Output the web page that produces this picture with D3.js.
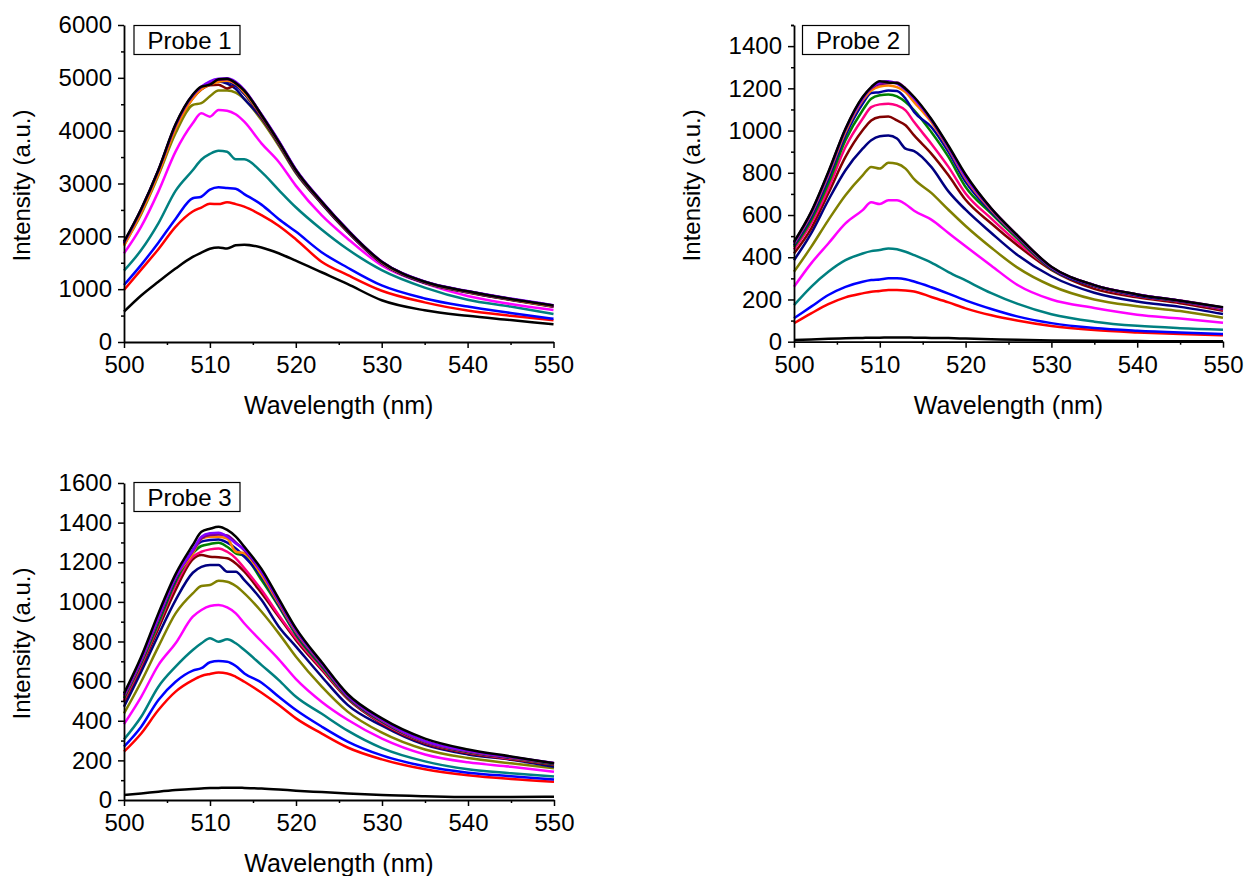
<!DOCTYPE html>
<html>
<head>
<meta charset="utf-8">
<script src="https://cdn.jsdelivr.net/npm/d3@7"></script>
<style>
  body { margin: 0; background: #fff; }
  svg text { font-family: "Liberation Sans", Arial, sans-serif; }
</style>
</head>
<body>
<div id="chart"></div>
<script>
var wavelengths = [500, 502, 504, 506, 508, 509, 510, 511, 512, 513, 514, 516, 518, 520, 523, 526, 530, 535, 540, 545, 550];

// line colours, drawn bottom -> top
var lineColors = ["#000000", "#FF0000", "#0000FF", "#008080", "#FF00FF", "#808000", "#000080", "#800000",
                  "#FF0080", "#008000", "#0000A0", "#FF8000", "#800080", "#8000FF", "#000000"];

var xTicks = [500, 510, 520, 530, 540, 550];

// Probe 1
var probe1 = [
  [574, 880, 1140, 1390, 1610, 1690, 1765, 1790, 1770, 1830, 1842, 1790, 1680, 1540, 1320, 1100, 790, 600, 495, 415, 335],
  [984, 1370, 1757, 2180, 2470, 2545, 2618, 2610, 2644, 2610, 2562, 2400, 2200, 1945, 1520, 1270, 970, 750, 595, 495, 410],
  [1079, 1460, 1880, 2330, 2720, 2750, 2885, 2930, 2915, 2900, 2800, 2600, 2330, 2090, 1700, 1410, 1070, 825, 670, 550, 438],
  [1350, 1740, 2246, 2860, 3250, 3450, 3560, 3620, 3600, 3458, 3458, 3220, 2880, 2550, 2130, 1760, 1360, 1030, 800, 670, 530],
  [1678, 2183, 2846, 3603, 4139, 4328, 4265, 4392, 4379, 4310, 4170, 3760, 3413, 2960, 2400, 1960, 1450, 1110, 870, 720, 606],
  [1840, 2420, 3150, 3950, 4486, 4520, 4650, 4760, 4760, 4720, 4600, 4200, 3720, 3200, 2620, 2090, 1490, 1120, 935, 795, 665],
  [1860, 2480, 3215, 4070, 4630, 4790, 4890, 4930, 4890, 4790, 4600, 4240, 3750, 3215, 2620, 2090, 1492, 1120, 942, 800, 672],
  [1845, 2470, 3200, 4050, 4610, 4780, 4860, 4870, 4800, 4860, 4700, 4260, 3770, 3230, 2632, 2100, 1500, 1125, 948, 804, 678],
  [1850, 2485, 3225, 4080, 4640, 4805, 4890, 4940, 4950, 4860, 4730, 4280, 3782, 3245, 2645, 2112, 1508, 1132, 952, 808, 682],
  [1865, 2495, 3235, 4090, 4655, 4815, 4900, 4955, 4965, 4880, 4745, 4290, 3795, 3255, 2655, 2122, 1514, 1136, 956, 810, 684],
  [1870, 2500, 3240, 4095, 4660, 4820, 4905, 4945, 4930, 4850, 4700, 4275, 3780, 3240, 2645, 2115, 1510, 1134, 955, 810, 683],
  [1820, 2450, 3185, 4035, 4610, 4785, 4875, 4925, 4945, 4885, 4725, 4285, 3785, 3250, 2650, 2118, 1512, 1135, 955, 810, 682],
  [1875, 2505, 3245, 4100, 4665, 4825, 4920, 4965, 4975, 4905, 4765, 4300, 3800, 3262, 2660, 2126, 1518, 1140, 960, 816, 690],
  [1885, 2512, 3250, 4110, 4672, 4830, 4935, 4985, 4992, 4925, 4775, 4310, 3812, 3270, 2668, 2132, 1525, 1146, 966, 822, 696],
  [1899, 2517, 3256, 4120, 4680, 4833, 4870, 4972, 4985, 4900, 4760, 4297, 3792, 3256, 2656, 2120, 1520, 1140, 960, 815, 690]
];

// Probe 2
var probe2 = [
  [8, 11, 14, 16, 18, 19, 19, 20, 20, 20, 19, 18, 17, 15, 12, 9, 6, 4, 3, 2, 2],
  [87, 134, 178, 210, 229, 237, 240, 245, 245, 243, 238, 212, 186, 158, 125, 100, 74, 55, 44, 36, 30],
  [111, 166, 221, 260, 284, 292, 295, 300, 300, 296, 285, 258, 228, 196, 155, 120, 88, 65, 52, 43, 36],
  [173, 260, 331, 386, 418, 429, 434, 442, 438, 426, 410, 375, 330, 290, 230, 180, 130, 95, 75, 64, 57],
  [260, 371, 465, 560, 623, 660, 652, 670, 670, 651, 620, 578, 515, 452, 360, 270, 200, 160, 128, 110, 90],
  [331, 449, 576, 694, 788, 828, 820, 848, 843, 820, 770, 705, 625, 548, 445, 352, 265, 200, 168, 145, 113],
  [386, 513, 670, 812, 914, 954, 973, 977, 962, 914, 903, 828, 712, 625, 515, 412, 310, 232, 190, 165, 131],
  [418, 536, 702, 875, 1001, 1048, 1064, 1067, 1048, 1025, 977, 891, 788, 672, 560, 458, 340, 250, 210, 182, 147],
  [437, 560, 725, 922, 1056, 1111, 1124, 1127, 1119, 1096, 1040, 938, 828, 702, 583, 473, 347, 262, 216, 189, 153],
  [449, 576, 749, 954, 1096, 1151, 1167, 1171, 1162, 1135, 1096, 993, 875, 733, 607, 489, 345, 263, 219, 191, 158],
  [457, 591, 772, 977, 1127, 1178, 1182, 1190, 1187, 1151, 1088, 1017, 899, 757, 615, 497, 347, 263, 219, 191, 156],
  [465, 604, 788, 993, 1143, 1190, 1209, 1214, 1206, 1182, 1135, 1040, 914, 773, 623, 500, 352, 267, 223, 194, 159],
  [470, 612, 800, 1006, 1155, 1200, 1220, 1225, 1228, 1200, 1155, 1050, 920, 785, 630, 505, 354, 268, 224, 195, 162],
  [468, 610, 796, 1004, 1151, 1203, 1228, 1234, 1222, 1193, 1151, 1051, 922, 780, 628, 503, 353, 268, 224, 194, 161],
  [473, 615, 804, 1009, 1159, 1206, 1234, 1228, 1225, 1198, 1159, 1055, 928, 792, 631, 505, 355, 268, 224, 194, 163]
];

// Probe 3
var probe3 = [
  [25, 33, 42, 50, 56, 58, 60, 61, 62, 62, 61, 58, 53, 47, 40, 33, 25, 19, 15, 15, 17],
  [244, 336, 454, 547, 605, 626, 636, 643, 639, 622, 597, 541, 479, 412, 335, 265, 205, 155, 125, 106, 92],
  [269, 370, 505, 597, 653, 665, 695, 701, 698, 676, 639, 592, 521, 454, 370, 295, 225, 170, 138, 120, 104],
  [306, 420, 572, 673, 757, 791, 816, 799, 811, 791, 757, 681, 605, 521, 435, 350, 262, 195, 155, 135, 118],
  [383, 521, 681, 791, 925, 959, 979, 984, 972, 942, 891, 800, 710, 610, 495, 405, 310, 230, 190, 168, 143],
  [437, 597, 774, 942, 1043, 1080, 1085, 1107, 1102, 1080, 1043, 950, 841, 723, 572, 446, 340, 255, 212, 185, 160],
  [471, 648, 833, 1009, 1147, 1177, 1186, 1186, 1152, 1152, 1110, 1009, 875, 774, 622, 480, 375, 278, 230, 203, 168],
  [496, 673, 866, 1060, 1215, 1236, 1228, 1225, 1220, 1194, 1152, 1043, 925, 807, 656, 510, 385, 285, 236, 206, 177],
  [505, 681, 883, 1085, 1228, 1253, 1265, 1270, 1253, 1220, 1169, 1060, 933, 816, 664, 515, 390, 290, 240, 209, 180],
  [513, 690, 892, 1102, 1245, 1282, 1292, 1299, 1278, 1245, 1231, 1110, 976, 833, 673, 518, 395, 292, 242, 212, 181],
  [521, 698, 908, 1114, 1262, 1304, 1312, 1315, 1299, 1270, 1228, 1127, 984, 841, 681, 522, 398, 293, 244, 213, 183],
  [525, 703, 917, 1124, 1245, 1320, 1329, 1329, 1320, 1253, 1245, 1135, 992, 849, 686, 525, 402, 295, 246, 215, 185],
  [528, 706, 920, 1125, 1255, 1320, 1338, 1340, 1335, 1300, 1260, 1150, 1000, 855, 688, 527, 404, 296, 247, 216, 186],
  [530, 710, 925, 1127, 1260, 1329, 1346, 1349, 1329, 1295, 1265, 1152, 1006, 858, 690, 528, 405, 297, 248, 217, 187],
  [538, 723, 942, 1140, 1287, 1354, 1369, 1379, 1363, 1329, 1278, 1165, 1015, 866, 695, 535, 412, 310, 255, 220, 185]
];

var panels = [
  {label: "Probe 1", data: probe1, left: 124, right: 553.5, top: 25, bottom: 342, yMax: 6000, yStep: 1000, yMinor: 500, yTickMax: 6000, titleX: 30, box: [134, 25.5, 106, 29], clipTitle: true},
  {label: "Probe 2", data: probe2, left: 794, right: 1223, top: 25, bottom: 341.7, yMax: 1500, yStep: 200, yMinor: 100, yTickMax: 1400, titleX: 700, box: [802.5, 25.5, 106.5, 29], clipTitle: true},
  {label: "Probe 3", data: probe3, left: 124, right: 554, top: 483, bottom: 800, yMax: 1600, yStep: 200, yMinor: 100, yTickMax: 1600, titleX: 30, box: [134, 482.5, 106, 29], clipTitle: false}
];

var svg = d3.select("#chart")
  .append("svg")
    .attr("width", 1247)
    .attr("height", 876)
    .style("display", "block");

svg.append("rect").attr("width", 1247).attr("height", 876).attr("fill", "#fff");

panels.forEach(function(p, pi) {
  var x = d3.scaleLinear().domain([500, 550]).range([p.left, p.right]);
  var y = d3.scaleLinear().domain([0, p.yMax]).range([p.bottom, p.top]);

  var g = svg.append("g");

  var line = d3.line()
    .x(function(d, i) { return x(wavelengths[i]); })
    .y(function(d) { return y(d); })
    .curve(d3.curveMonotoneX);

  g.selectAll("path.curve")
    .data(p.data)
    .enter()
    .append("path")
      .attr("class", "curve")
      .attr("d", function(d) { return line(d); })
      .attr("stroke", function(d, i) { return lineColors[i]; })
      .attr("stroke-width", 2.5)
      .attr("stroke-linejoin", "round")
      .attr("fill", "none");

  // minor ticks
  var xMinor = d3.range(505, 550, 10);
  g.append("g")
    .attr("transform", "translate(0," + p.bottom + ")")
    .call(d3.axisBottom(x).tickValues(xMinor).tickSize(3).tickSizeOuter(0).tickFormat(""))
    .call(function(a) { a.select(".domain").remove(); });

  var yMinorVals = d3.range(p.yMinor, p.yMax + 1, p.yStep).filter(function(v) { return v % p.yStep !== 0; });
  if (p.yMax % p.yStep !== 0) yMinorVals.push(p.yMax);
  g.append("g")
    .attr("transform", "translate(" + p.left + ",0)")
    .call(d3.axisLeft(y).tickValues(yMinorVals).tickSize(3).tickSizeOuter(0).tickFormat(""))
    .call(function(a) { a.select(".domain").remove(); });

  // major axes
  var xAxis = g.append("g")
    .attr("transform", "translate(0," + p.bottom + ")")
    .call(d3.axisBottom(x).tickValues(xTicks).tickFormat(d3.format("d"))
      .tickSize(6).tickSizeOuter(0).tickPadding(8));
  var yAxis = g.append("g")
    .attr("transform", "translate(" + p.left + ",0)")
    .call(d3.axisLeft(y).tickValues(d3.range(0, p.yTickMax + 1, p.yStep)).tickFormat(d3.format("d"))
      .tickSize(6).tickSizeOuter(0).tickPadding(6));

  g.selectAll(".tick line").attr("stroke", "#000").attr("stroke-width", 1.5);
  g.selectAll(".domain").attr("stroke", "#000").attr("stroke-width", 1.8);
  [xAxis, yAxis].forEach(function(a) {
    a.selectAll("text")
      .style("font-family", "'Liberation Sans', Arial, sans-serif")
      .style("font-size", "24px")
      .attr("fill", "#000");
  });

  // axis titles
  var titleG = g.append("g");
  if (p.clipTitle) {
    svg.append("clipPath").attr("id", "clipTitle" + pi)
      .append("rect")
        .attr("x", p.left - 40).attr("y", p.bottom + 40)
        .attr("width", p.right - p.left + 80).attr("height", 75);
    titleG.attr("clip-path", "url(#clipTitle" + pi + ")");
  }
  titleG.append("text")
    .attr("x", (p.left + p.right) / 2)
    .attr("y", p.bottom + 72)
    .attr("text-anchor", "middle")
    .style("font-size", "25px")
    .text("Wavelength (nm)");

  g.append("text")
    .attr("transform", "translate(" + p.titleX + "," + ((p.top + p.bottom) / 2 + 2) + ") rotate(-90)")
    .attr("text-anchor", "middle")
    .style("font-size", "24px")
    .text("Intensity (a.u.)");

  // probe label box
  g.append("rect")
    .attr("x", p.box[0]).attr("y", p.box[1])
    .attr("width", p.box[2]).attr("height", p.box[3])
    .attr("fill", "#fff")
    .attr("stroke", "#000")
    .attr("stroke-width", 1.2);
  g.append("text")
    .attr("x", p.box[0] + 13.5)
    .attr("y", p.box[1] + 23)
    .style("font-size", "24px")
    .text(p.label);
});
</script>
</body>
</html>
